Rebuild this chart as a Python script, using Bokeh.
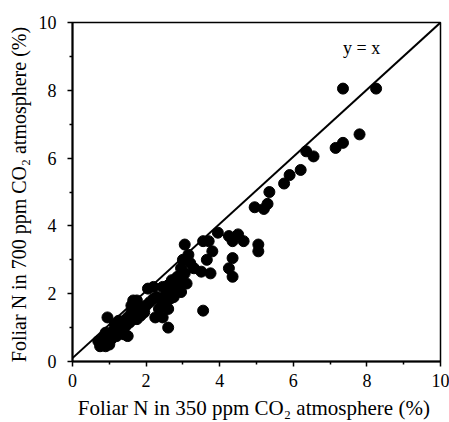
from bokeh.plotting import figure
from bokeh.models import Range1d, FixedTicker, ColumnDataSource
from bokeh.embed import file_html
from bokeh.resources import INLINE
from bokeh.core.properties import value

# Foliar N (%) at 350 ppm CO2 (x) vs 700 ppm CO2 (y)
n_350 = [8.25, 7.35, 7.8, 7.35, 7.15, 6.55, 6.35, 6.2, 5.9, 5.75, 5.35, 5.3, 5.2, 4.95,
         5.05, 5.05, 4.65, 4.5, 4.35, 4.25, 4.35, 4.25, 4.35, 3.95, 3.8, 3.7, 3.55, 3.65,
         3.75, 3.5, 3.55, 3.05, 3.15, 3.0, 3.2, 3.05, 2.85, 3.1, 2.95, 2.6, 2.45, 2.2,
         2.3, 2.4, 2.6, 2.25, 2.45, 2.6, 2.75, 2.8, 2.05, 2.2, 1.65, 1.9, 1.75, 0.95,
         1.5, 0.7, 0.75, 1.0, 0.9, 0.85, 1.0, 1.1, 1.2, 1.3, 1.4, 1.5, 1.6, 1.7, 1.8,
         1.2, 1.3, 1.05, 1.15, 1.35, 1.45, 1.55, 1.65, 1.85, 1.95, 2.0, 2.1, 2.35, 2.5,
         2.65, 2.75, 2.95, 2.55, 1.25, 0.9, 1.6, 1.75, 1.4, 2.7, 3.3, 2.95]
n_700 = [8.05, 8.05, 6.7, 6.45, 6.3, 6.05, 6.2, 5.65, 5.5, 5.25, 5.0, 4.65, 4.5, 4.55,
         3.45, 3.25, 3.55, 3.75, 3.55, 3.7, 3.05, 2.75, 2.5, 3.8, 3.25, 3.55, 3.55, 3.0,
         2.6, 2.65, 1.5, 3.45, 3.15, 3.0, 2.9, 2.6, 2.5, 2.3, 2.05, 2.25, 2.2, 2.2,
         1.9, 1.6, 1.55, 1.3, 1.3, 1.0, 1.9, 2.2, 2.15, 1.85, 1.8, 1.55, 1.8, 1.3,
         0.75, 0.6, 0.45, 0.5, 0.45, 0.7, 0.8, 0.9, 1.0, 1.05, 1.2, 1.3, 1.45, 1.5, 1.6,
         0.75, 0.85, 0.65, 1.1, 0.95, 1.05, 1.15, 1.25, 1.35, 1.45, 1.65, 1.75, 1.55, 1.75,
         1.85, 2.05, 2.35, 2.0, 1.2, 0.85, 1.65, 1.25, 0.8, 2.4, 2.75, 2.75]
line_x = [0, 10]
line_y = [0.1, 10]
ticks = [0, 2, 4, 6, 8, 10]
x_label = "Foliar N in 350 ppm CO₂  atmosphere (%)"
y_label = "Foliar N in 700 ppm CO₂  atmosphere (%)"
line_label = "y = x"

p = figure(width=449, height=422, output_backend="svg", toolbar_location=None,
           x_range=Range1d(0, 10), y_range=Range1d(0, 10))
p.min_border_left = 72
p.min_border_right = 9
p.min_border_top = 22
p.min_border_bottom = 60
p.grid.visible = False
p.background_fill_color = "white"
p.border_fill_color = "white"
p.outline_line_color = "black"
p.outline_line_width = 1.5
p.outline_line_alpha = 1

for ax in (p.xaxis[0], p.yaxis[0]):
    ax.ticker = FixedTicker(ticks=ticks, minor_ticks=[1, 3, 5, 7, 9])
    ax.axis_line_width = 2
    ax.major_tick_in = 0
    ax.major_tick_out = 5
    ax.minor_tick_in = 0
    ax.minor_tick_out = 3
    ax.major_tick_line_width = 1.5
    ax.minor_tick_line_width = 1.5
    ax.major_label_text_font = "Liberation Serif"
    ax.major_label_text_font_size = "18px"
    ax.major_label_text_color = "black"
    ax.axis_label_text_font = "Liberation Serif"
    ax.axis_label_text_font_style = "normal"
    ax.axis_label_text_color = "black"

p.xaxis.axis_label_text_font_size = "21px"
p.yaxis.axis_label_text_font_size = "20px"
p.xaxis.axis_label = x_label
p.yaxis.axis_label = y_label
p.xaxis.major_label_standoff = 7
p.yaxis.major_label_standoff = 11
p.xaxis.axis_label_standoff = 6
p.yaxis.axis_label_standoff = 6

p.line(line_x, line_y, line_color="black", line_width=2)
src = ColumnDataSource(dict(x=n_350, y=n_700))
p.scatter("x", "y", source=src, size=11, fill_color="black", line_color="black")
p.text(x=[7.35], y=[9.25], text=[line_label], text_font=value("Liberation Serif"),
       text_font_size="18px", text_baseline="middle", text_align="left", text_color="black")

open("out.html", "w").write(file_html(p, INLINE))
